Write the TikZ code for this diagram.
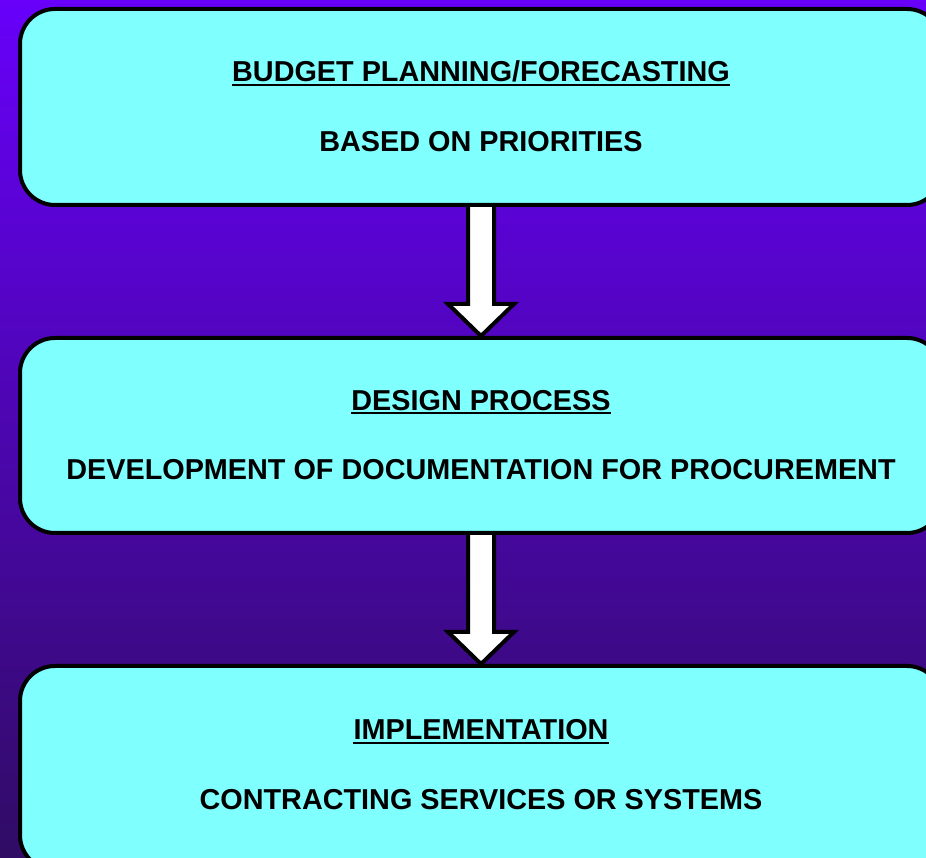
\documentclass[tikz,border=0pt]{standalone}
\usepackage{fontspec}
\setmainfont{Liberation Sans}
\usetikzlibrary{backgrounds}
\definecolor{bgtop}{RGB}{104,0,250}
\definecolor{bgbot}{RGB}{48,12,100}
\definecolor{boxcyan}{RGB}{128,255,255}
\begin{document}
\begin{tikzpicture}[x=1pt,y=1pt,
  stagebox/.style={rectangle, rounded corners=35pt, line width=4pt, draw=black, fill=boxcyan, minimum width=922pt},
  label/.style={inner sep=0pt, anchor=base, font=\fontsize{28.8}{34}\selectfont\bfseries},
  flow/.style={draw=black, fill=white, line width=4pt, line join=miter}]
\useasboundingbox (0,0) rectangle (926,858);
\clip (0,0) rectangle (926,858);

\node[stagebox, minimum height=196pt](plan) at (481,751) {};
\node[stagebox, minimum height=195pt](design) at (481,422.5) {};
\node[stagebox, minimum height=204pt](impl) at (481,90) {};

% titles and details
\node[label](plant) at ([yshift=25pt]plan.center) {BUDGET PLANNING/FORECASTING};
\node[label](pland) at ([yshift=-45pt]plan.center) {BASED ON PRIORITIES};
\node[label](designt) at ([yshift=25pt]design.center) {DESIGN PROCESS};
\node[label](designd) at ([yshift=-44pt]design.center) {DEVELOPMENT OF DOCUMENTATION FOR PROCUREMENT};
\node[label](implt) at ([yshift=28pt]impl.center) {IMPLEMENTATION};
\node[label](impld) at ([yshift=-42pt]impl.center) {CONTRACTING SERVICES OR SYSTEMS};

\foreach \t in {plant,designt,implt}
  \draw[line width=2pt] ([yshift=-3pt]\t.base west) -- ([yshift=-3pt]\t.base east);

\begin{pgfonlayer}{background}
\shade[top color=bgtop, bottom color=bgbot] (0,0) rectangle (926,858);
\draw[flow] ([xshift=-13pt]plan.south) -- ([xshift=-13pt,yshift=32pt]design.north) -- ([xshift=-33pt,yshift=32pt]design.north) -- (design.north) -- ([xshift=33pt,yshift=32pt]design.north) -- ([xshift=13pt,yshift=32pt]design.north) -- ([xshift=13pt]plan.south);
\draw[flow] ([xshift=-13pt]design.south) -- ([xshift=-13pt,yshift=32pt]impl.north) -- ([xshift=-33pt,yshift=32pt]impl.north) -- (impl.north) -- ([xshift=33pt,yshift=32pt]impl.north) -- ([xshift=13pt,yshift=32pt]impl.north) -- ([xshift=13pt]design.south);
\end{pgfonlayer}
\end{tikzpicture}
\end{document}
